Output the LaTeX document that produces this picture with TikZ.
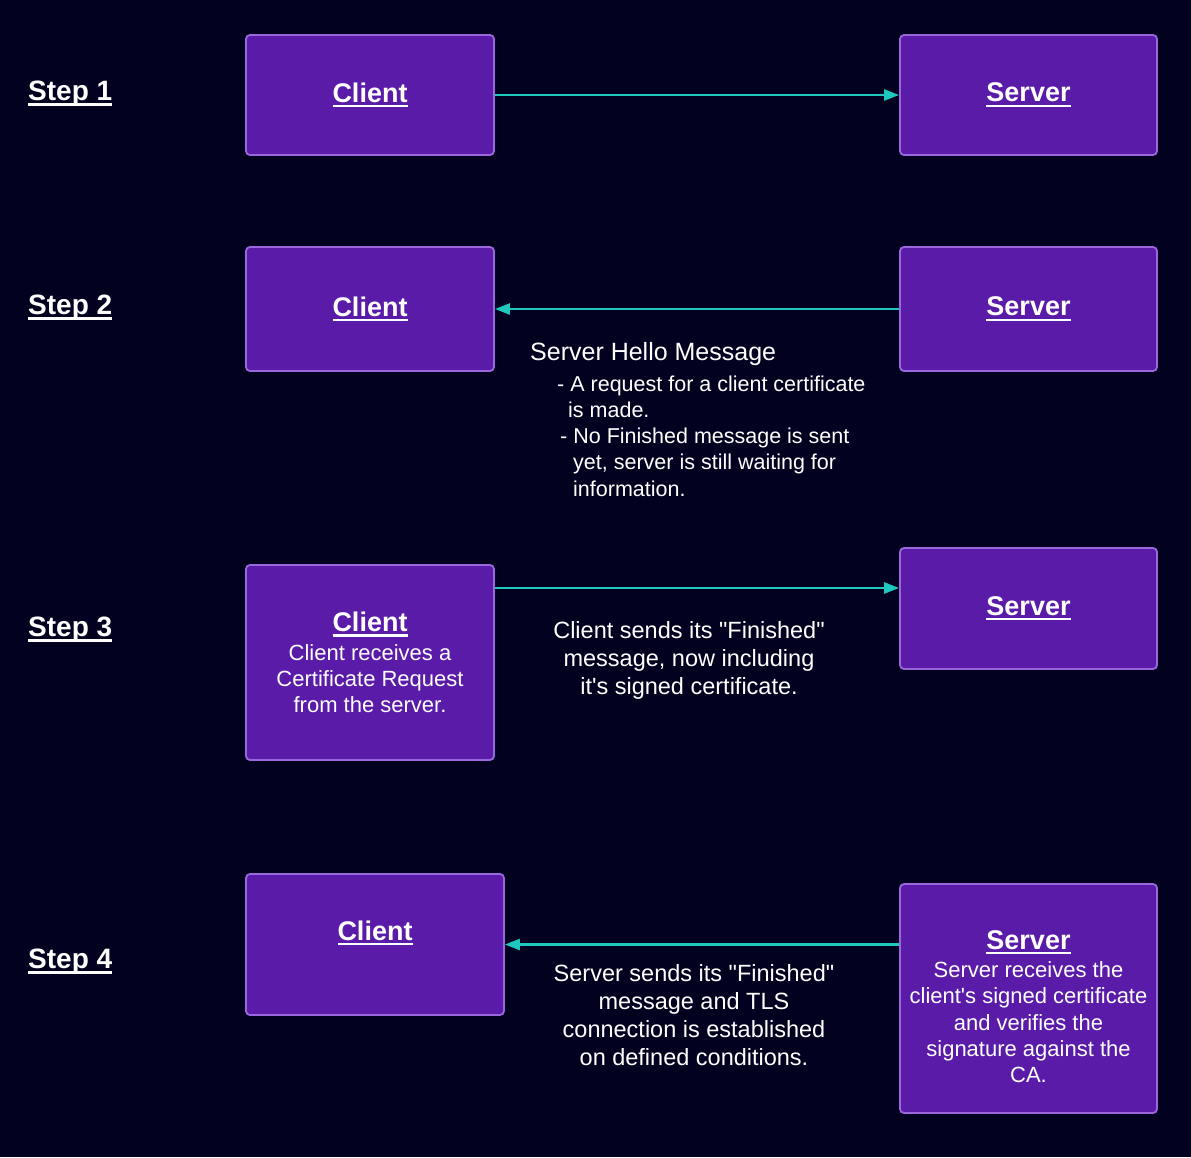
\documentclass[tikz,border=0pt]{standalone}
\usepackage{fontspec}
\setmainfont{Liberation Sans}[Ligatures=TeXOff]
\usepackage{xcolor}
\usepackage{tikz}
\usetikzlibrary{arrows.meta,positioning}
\definecolor{bgnavy}{HTML}{020220}
\definecolor{boxpurple}{HTML}{5A1BA8}
\definecolor{boxedge}{HTML}{9A68DC}
\definecolor{linkteal}{HTML}{1EC8BE}
\newcommand{\hdr}[2][27]{{\fontsize{#1}{30}\selectfont\bfseries\setbox0\hbox{#2}\rlap{\rule[-5pt]{\wd0}{2.4pt}}\box0}}

\begin{document}
\begin{tikzpicture}[
    x=1pt, y=-1pt,
    box/.style={rectangle, draw=boxedge, line width=1.8pt, rounded corners=4pt, fill=boxpurple, text=white, align=center, inner sep=2pt, font=\fontsize{22}{26.2}\selectfont},
    arrow/.style={-{Triangle[length=15pt,width=11pt]}, line width=2.4pt, draw=linkteal},
    steplabel/.style={anchor=west, inner sep=0pt, text=white},
    msg/.style={text=white, align=center, inner sep=0pt, font=\fontsize{23.5}{28}\selectfont}
]
% Background
\fill[bgnavy] (0,0) rectangle (1191,1157);

% Step labels
\node[steplabel] (st1) at (28,94) {\hdr[28]{Step 1}};
\node[steplabel] (st2) at (28,308) {\hdr[28]{Step 2}};
\node[steplabel] (st3) at (28,630) {\hdr[28]{Step 3}};
\node[steplabel] (st4) at (28,962) {\hdr[28]{Step 4}};

% Step 1
\node[box, minimum width=248pt, minimum height=120pt] (c1) at (370,95) {\hdr{Client}};
\node[box, minimum width=257pt, minimum height=120pt] (s1) at (1028.5,95) {\hdr{Server}};

% Step 2
\node[box, minimum width=248pt, minimum height=124pt] (c2) at (370,309) {\hdr{Client}};
\node[box, minimum width=257pt, minimum height=124pt] (s2) at (1028.5,309) {\hdr{Server}};

% Step 3
\node[box, minimum width=248pt, minimum height=195pt] (c3) at (370,662.5) {\hdr{Client}\\[2pt] Client receives a\\ Certificate Request\\ from the server.};
\node[box, minimum width=257pt, minimum height=121pt] (s3) at (1028.5,608.5) {\hdr{Server}};
\coordinate (a3) at (494,588);

% Step 4
\node[box, minimum width=258pt, minimum height=141pt] (c4) at (375,944.5) {\hdr{Client}\\[2pt] \mbox{}};
\node[box, minimum width=257pt, minimum height=229pt] (s4) at (1028.5,998.5) {\rule{0pt}{35pt}\hdr{Server}\\[2pt] Server receives the\\ client's signed certificate\\ and verifies the\\ signature against the\\ CA.};

% Arrows
\draw[arrow] (c1) -- (s1);
\draw[arrow] (s2) -- (c2);
\draw[arrow] (c3.east |- a3) -- (s3.west |- a3);
\draw[arrow] (s4.west |- c4.east) -- (c4.east);

% Messages
\node[anchor=base west, inner sep=0pt, text=white, font=\fontsize{25}{30}\selectfont] (hello) at (530,360) {Server Hello Message};
\node[anchor=west, inner sep=0pt, text=white, align=left, font=\fontsize{21.5}{26.3}\selectfont] (hellonote) at (557,436) {- A request for a client certificate\\
\hspace*{11pt}is made.\\
\hspace*{3pt}- No Finished message is sent\\
\hspace*{16pt}yet, server is still waiting for\\
\hspace*{16pt}information.};
\node[msg] (fin3) at (689,660.5) {Client sends its "Finished"\\ message, now including\\ it's signed certificate.};
\node[msg] (fin4) at (694,1015.5) {Server sends its "Finished"\\ message and TLS\\ connection is established\\ on defined conditions.};

\end{tikzpicture}
\end{document}
